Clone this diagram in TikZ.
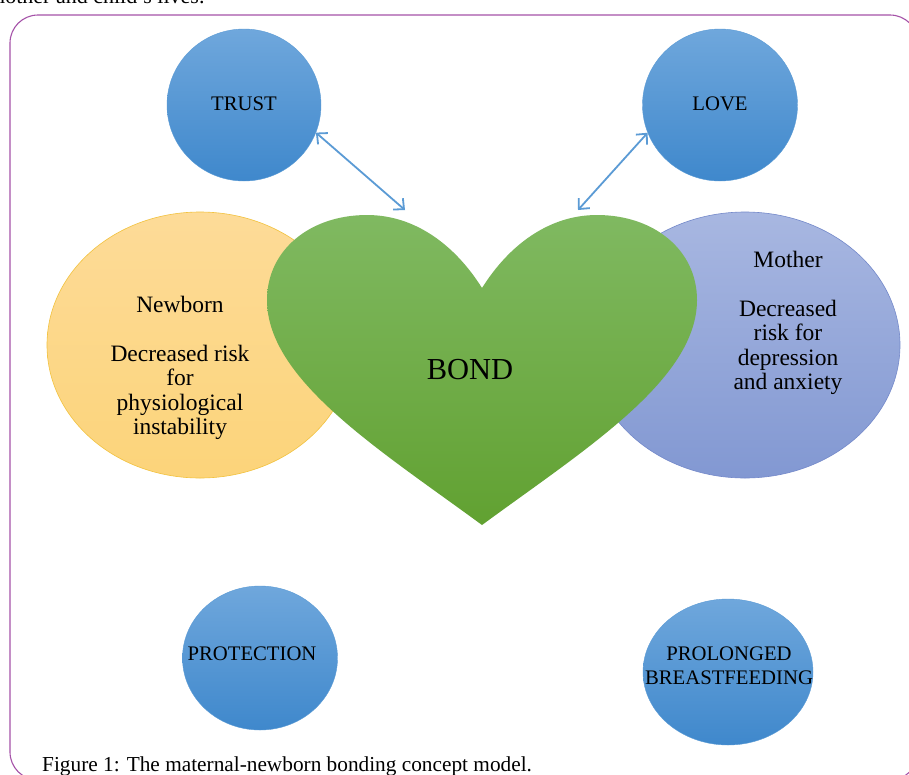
\documentclass[tikz,border=0pt]{standalone}
\usepackage{fontspec}
\setmainfont{Liberation Serif}
\usetikzlibrary{arrows.meta,shapes.geometric}
\definecolor{frameC}{HTML}{A552A8}
\definecolor{circTop}{HTML}{6FA7DC}
\definecolor{circBot}{HTML}{3F88CC}
\definecolor{circLine}{HTML}{5B9BD5}
\definecolor{yelTop}{HTML}{FDDB98}
\definecolor{yelBot}{HTML}{FCD47A}
\definecolor{yelLine}{HTML}{F2C23E}
\definecolor{purTop}{HTML}{A8B7E1}
\definecolor{purBot}{HTML}{8298D2}
\definecolor{purLine}{HTML}{7489CA}
\definecolor{heartTop}{HTML}{80B961}
\definecolor{heartBot}{HTML}{61A131}
\definecolor{arrowC}{HTML}{5B9BD5}
\begin{document}
\begin{tikzpicture}[x=1pt,y=-1pt,
  bluecirc/.style={ellipse, inner sep=0pt, top color=circTop, bottom color=circBot, draw=circLine, line width=0.4pt},
  capslabel/.style={font=\fontsize{20.7}{24}\selectfont, align=center, inner sep=0pt},
  mixlabel/.style={font=\fontsize{23.5}{24.5}\selectfont, align=center, inner sep=0pt},
  yelshape/.style={ellipse, inner sep=0pt, minimum width=306pt, minimum height=266pt, top color=yelTop, bottom color=yelBot, draw=yelLine, line width=0.6pt},
  purshape/.style={ellipse, inner sep=0pt, minimum width=310pt, minimum height=266pt, top color=purTop, bottom color=purBot, draw=purLine, line width=0.6pt},
  heartfill/.style={top color=heartTop, bottom color=heartBot},
  linkarrow/.style={draw=arrowC, line width=1.8pt, {Straight Barb[length=8pt,width=15pt]}-{Straight Barb[length=8pt,width=15pt]}},
  frame/.style={draw=frameC, line width=1.1pt, rounded corners=28pt}
]
\useasboundingbox (0,0) rectangle (909,774);
\begin{scope}
\clip (0,0) rectangle (909,774);
\fill[white] (0,0) rectangle (909,774);
% clipped text line above frame
\node[anchor=base west, inner sep=0pt, font=\fontsize{22}{24}\selectfont] (topline) at (-12,3) {mother and child's lives.};
% frame
\draw[frame] (10,15) rectangle (918,780);
% side ellipses
\node[yelshape] (nbshape) at (200,345) {};
\node[purshape] (moshape) at (745,345) {};
% heart
\path[heartfill] (482,288) .. controls (455,245) and (415,215) .. (367,215)
  .. controls (310,215) and (267,250) .. (267,300)
  .. controls (267,380) and (380,450) .. (482,525)
  .. controls (584,450) and (697,380) .. (697,300)
  .. controls (697,250) and (654,215) .. (597,215)
  .. controls (549,215) and (509,245) .. (482,288) -- cycle;
\node[font=\fontsize{30.5}{32}\selectfont, inner sep=0pt] (bond) at (470,370) {BOND};
% texts in side ellipses
\node[mixlabel] (nbtext) at (180,368) {Newborn\\[24.5pt]Decreased risk\\for\\physiological\\instability};
\node[mixlabel] (motext) at (788,323) {Mother\\[24.5pt]Decreased\\risk for\\depression\\and anxiety};
% circles
\node[bluecirc, minimum width=154pt, minimum height=152pt] (trust) at (244,105) {};
\node[capslabel] (trusttext) at (244,104) {TRUST};
\node[bluecirc, minimum width=155pt, minimum height=152pt] (love) at (720,105) {};
\node[capslabel] (lovetext) at (720,104) {LOVE};
\node[bluecirc, minimum width=155pt, minimum height=144pt] (prot) at (260,658) {};
\node[capslabel] (prottext) at (252,654) {PROTECTION};
\node[bluecirc, minimum width=170pt, minimum height=146pt] (prol) at (728,672) {};
\node[capslabel] (proltext) at (729,666) {PROLONGED\\BREASTFEEDING};
% arrows
\coordinate (bondL) at (405,210);
\coordinate (bondR) at (578,210);
\draw[linkarrow] (trust.-21) -- (bondL);
\draw[linkarrow] (love.-159) -- (bondR);
% caption
\node[anchor=base west, inner sep=0pt, font=\fontsize{21.3}{24}\selectfont] (caption) at (42,771) {Figure 1: The maternal-newborn bonding concept model.};
\end{scope}
\end{tikzpicture}
\end{document}
